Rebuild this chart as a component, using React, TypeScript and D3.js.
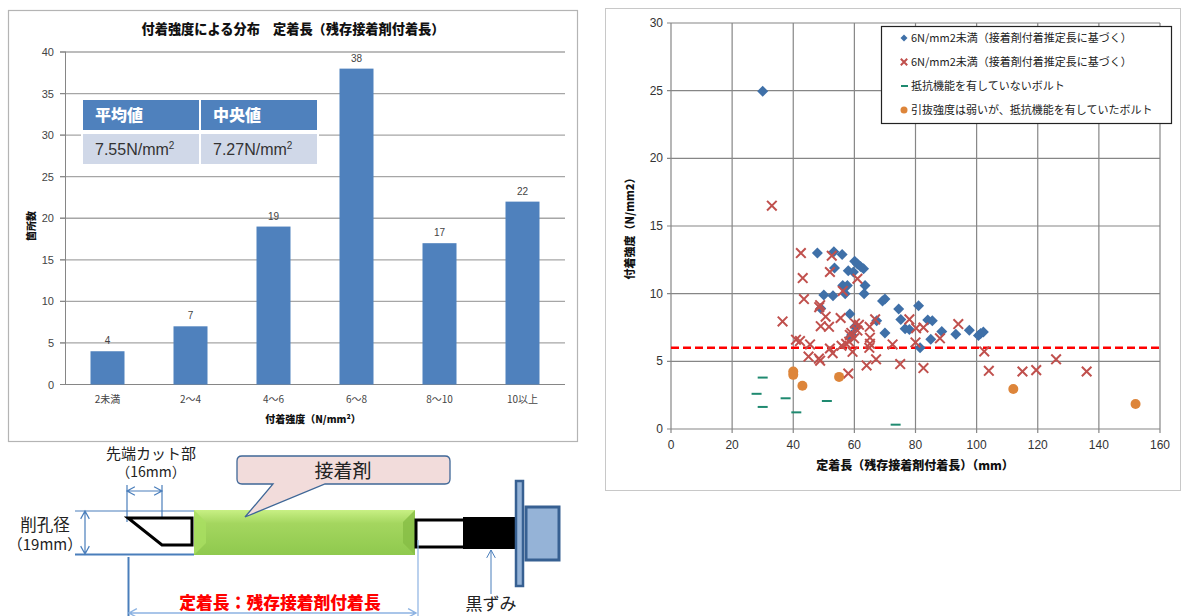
import React from "react";
import * as d3 from "d3";

const barCategories = ["2未満", "2〜4", "4〜6", "6〜8", "8〜10", "10以上"];
const barValues = [4, 7, 19, 38, 17, 22];
const barTicks = [0, 5, 10, 15, 20, 25, 30, 35, 40];
const tableHeaders = ["平均値", "中央値"];
const tableValues = ["7.55", "7.27"];

const blueX = [30, 47.9, 53.3, 56, 60.1, 61, 62, 63, 53.5, 58, 59.7, 63.5, 63.2, 56.2, 57.7, 57, 50, 53, 49, 58.5, 58.8, 67.3, 70, 69.2, 70, 74.5, 75.2, 76.6, 78, 81, 84, 85.5, 88.6, 85, 81.5, 93.2, 97.6, 100.6, 101.3, 102.2, 60.2, 59.1];
const blueY = [24.95, 13, 13.1, 12.9, 12.4, 12.2, 12, 11.85, 11.9, 11.7, 11.6, 10.6, 10, 10.6, 10.6, 10, 9.9, 9.85, 8.9, 8.5, 6.8, 8, 7.1, 9.45, 9.6, 8.87, 8.1, 7.4, 7.35, 9.1, 8.05, 8, 7.2, 6.63, 6, 7, 7.3, 6.9, 7.05, 7.17, 7.55, 6.95];
const redX = [33, 42.5, 52.6, 52, 61, 43.1, 56.2, 43.5, 48.8, 48.5, 36.5, 50.6, 55.5, 49, 51.7, 60.2, 61.5, 61, 65, 66.8, 65.1, 65.1, 59, 59.9, 58.5, 58.3, 57.3, 55.8, 40.9, 42.2, 45.5, 52, 52.9, 59.4, 64.9, 72.5, 45, 48.4, 48.8, 67.1, 64, 75, 58, 78, 80.2, 80, 82.6, 88, 94, 102.5, 104, 82.6, 115, 119.5, 126, 136];
const redY = [16.5, 13, 12.8, 11.6, 11.1, 11.15, 10.2, 9.6, 9.15, 9, 7.95, 8.3, 8.2, 7.6, 7.55, 7.8, 7.7, 7.27, 7.55, 8.1, 6.75, 6.3, 7.1, 6.7, 6.95, 6.45, 6.3, 6.15, 6.6, 6.5, 6.25, 5.95, 5.6, 5.7, 6, 6.25, 5.35, 5.2, 5.05, 5.15, 4.7, 4.8, 4.1, 8.1, 7.45, 6.4, 7.5, 6.7, 7.75, 5.73, 4.3, 4.5, 4.25, 4.35, 5.15, 4.25];
const greenX = [30, 28, 30, 37.5, 41, 51, 73.5];
const greenY = [3.8, 2.6, 1.63, 2.27, 1.23, 2.07, 0.32];
const orangeX = [40, 40, 43, 55, 112, 152];
const orangeY = [4.25, 4.0, 3.2, 3.85, 2.95, 1.85];
const threshold = 6;
const scatterXTicks = [0, 20, 40, 60, 80, 100, 120, 140, 160];
const scatterYTicks = [0, 5, 10, 15, 20, 25, 30];
const legendLabels = [
  "6N/mm2未満（接着剤付着推定長に基づく）",
  "6N/mm2未満（接着剤付着推定長に基づく）",
  "抵抗機能を有していないボルト",
  "引抜強度は弱いが、抵抗機能を有していたボルト",
];

const JP = "'Noto Sans CJK JP','Noto Sans',sans-serif";
const NUM = "'Liberation Sans','Noto Sans CJK JP',sans-serif";
const BLUE = "#4f81bd";
const LINE = "#4a7ebb";

function Diamond({ x, y, r = 5.5 }: { x: number; y: number; r?: number }) {
  return <path d={`M${x},${y - r}L${x + r},${y}L${x},${y + r}L${x - r},${y}Z`} fill="#3f70a8" />;
}
function Cross({ x, y, r = 4.8 }: { x: number; y: number; r?: number }) {
  return <path d={`M${x - r},${y - r}L${x + r},${y + r}M${x - r},${y + r}L${x + r},${y - r}`} stroke="#c0504d" strokeWidth={2} fill="none" />;
}
function Arrow({ x1, y1, x2, y2, color = LINE, w = 1.2, both = true }: any) {
  const a = Math.atan2(y2 - y1, x2 - x1);
  const s = 9;
  const head = (x: number, y: number, ang: number) =>
    `M${x + s * Math.cos(ang + 0.5)},${y + s * Math.sin(ang + 0.5)}L${x},${y}L${x + s * Math.cos(ang - 0.5)},${y + s * Math.sin(ang - 0.5)}`;
  return (
    <path
      d={`M${x1},${y1}L${x2},${y2}${head(x2, y2, a + Math.PI)}${both ? head(x1, y1, a) : ""}`}
      fill="none"
      stroke={color}
      strokeWidth={w}
    />
  );
}

function BarChart() {
  const x = d3.scaleBand<string>().domain(barCategories).range([66, 564]);
  const y = d3.scaleLinear().domain([0, 40]).range([384.5, 52]);
  return (
    <g>
      <rect x={8.5} y={10.5} width={569} height={431} fill="#fff" stroke="#b4b4b4" strokeWidth={1.2} />
      <text x={293} y={34} textAnchor="middle" fontFamily={JP} fontWeight={900} fontSize={13.2} fill="#111">付着強度による分布　定着長（残存接着剤付着長）</text>
      {barTicks.map((t) => (
        <g key={t}>
          {t > 0 && <line x1={60} x2={565} y1={y(t)} y2={y(t)} stroke="#a6a6a6" strokeWidth={1.3} />}
          <line x1={60} x2={66} y1={y(t)} y2={y(t)} stroke="#868686" />
          <text x={54} y={y(t) + 4} textAnchor="end" fontFamily={NUM} fontSize={11} fill="#444">{t}</text>
        </g>
      ))}
      <line x1={65.5} x2={65.5} y1={y(40)} y2={y(0)} stroke="#868686" />
      <line x1={65} x2={565} y1={y(0)} y2={y(0)} stroke="#868686" strokeWidth={1.2} />
      {barCategories.map((c, i) => {
        const bx = (x(c) as number) + x.bandwidth() / 2;
        const w = 34;
        return (
          <g key={c}>
            <rect x={bx - w / 2} y={y(barValues[i])} width={w} height={y(0) - y(barValues[i])} fill={BLUE} />
            <text x={bx} y={y(barValues[i]) - 7} textAnchor="middle" fontFamily={NUM} fontSize={10} fill="#444">{barValues[i]}</text>
            <text x={bx} y={403} textAnchor="middle" fontFamily={JP} fontSize={10} fill="#444">{c}</text>
          </g>
        );
      })}
      <text x={313} y={423} textAnchor="middle" fontFamily={JP} fontWeight={900} fontSize={10} fill="#111">付着強度（N/mm²）</text>
      <text transform="translate(35,226) rotate(-90)" textAnchor="middle" fontFamily={JP} fontWeight={900} fontSize={10} fill="#111">箇所数</text>
      <rect x={81} y={98} width={238} height={68} fill="#fff" />
      {tableHeaders.map((h, i) => {
        const tx = 83 + i * 118;
        return (
          <g key={h}>
            <rect x={tx} y={100} width={116} height={30} fill={BLUE} />
            <rect x={tx} y={134} width={116} height={30} fill="#d0d8e8" />
            <text x={tx + 12} y={121} fontFamily={JP} fontWeight={900} fontSize={16} fill="#fff">{h}</text>
            <text x={tx + 12} y={155} fontFamily={NUM} fontSize={16} fill="#333">
              {tableValues[i]}N/mm<tspan dy={-6} fontSize={10}>2</tspan>
            </text>
          </g>
        );
      })}
    </g>
  );
}

function ScatterChart() {
  const x = d3.scaleLinear().domain([0, 160]).range([671, 1160]);
  const y = d3.scaleLinear().domain([0, 30]).range([429, 23]);
  return (
    <g>
      <rect x={605.5} y={8.5} width={575} height={482} fill="#fff" stroke="#c8c8c8" strokeWidth={1} />
      {scatterXTicks.map((t) => (
        <g key={t}>
          <line x1={x(t)} x2={x(t)} y1={23} y2={433} stroke="#868686" strokeWidth={1.2} />
          <text x={x(t)} y={449} textAnchor="middle" fontFamily={NUM} fontSize={12} fill="#333">{t}</text>
        </g>
      ))}
      {scatterYTicks.map((t) => (
        <g key={t}>
          <line x1={667} x2={1160} y1={y(t)} y2={y(t)} stroke="#868686" strokeWidth={1.2} />
          <text x={663} y={y(t) + 4} textAnchor="end" fontFamily={NUM} fontSize={12} fill="#333">{t}</text>
        </g>
      ))}
      <line x1={671} x2={1162} y1={y(threshold)} y2={y(threshold)} stroke="#ff0000" strokeWidth={2.6} strokeDasharray="8 4" />
      {blueX.map((v, i) => <Diamond key={i} x={x(v)} y={y(blueY[i])} />)}
      {redX.map((v, i) => <Cross key={i} x={x(v)} y={y(redY[i])} />)}
      {greenX.map((v, i) => (
        <line key={i} x1={x(v) - 5} x2={x(v) + 5} y1={y(greenY[i])} y2={y(greenY[i])} stroke="#1f8a70" strokeWidth={2} />
      ))}
      {orangeX.map((v, i) => <circle key={i} cx={x(v)} cy={y(orangeY[i])} r={5} fill="#dd853a" />)}
      <rect x={881.5} y={26.5} width={290} height={97} fill="#fff" stroke="#222" strokeWidth={1.2} />
      {legendLabels.map((l, i) => {
        const ly = 38 + i * 24;
        return (
          <g key={i}>
            {i === 0 && <Diamond x={904} y={ly} r={3.5} />}
            {i === 1 && <Cross x={904} y={ly} r={3.2} />}
            {i === 2 && <line x1={901} x2={908} y1={ly} y2={ly} stroke="#1f8a70" strokeWidth={2} />}
            {i === 3 && <circle cx={904} cy={ly} r={3.5} fill="#dd853a" />}
            <text x={911} y={ly + 4} fontFamily={JP} fontSize={11} fill="#222">{l}</text>
          </g>
        );
      })}
      <text x={915} y={470} textAnchor="middle" fontFamily={JP} fontWeight={900} fontSize={12} fill="#111">定着長（残存接着剤付着長）（mm）</text>
      <text transform="translate(634,226) rotate(-90)" textAnchor="middle" fontFamily={JP} fontWeight={900} fontSize={11} fill="#111">付着強度（N/mm2）</text>
    </g>
  );
}

function Diagram() {
  return (
    <g>
      <defs>
        <linearGradient id="greenV" x1="0" y1="0" x2="0" y2="1">
          <stop offset="0" stopColor="#c8f084" />
          <stop offset="0.3" stopColor="#a4d65f" />
          <stop offset="1" stopColor="#8fc94e" />
        </linearGradient>
      </defs>
      <text x={151} y={459} textAnchor="middle" fontFamily={JP} fontSize={15} fill="#222">先端カット部</text>
      <text x={151} y={477} textAnchor="middle" fontFamily={JP} fontSize={14} fill="#222">（16mm）</text>
      <line x1={127} x2={127} y1={485} y2={522} stroke={LINE} strokeWidth={1.2} />
      <line x1={162} x2={162} y1={485} y2={519} stroke={LINE} strokeWidth={1.2} />
      <Arrow x1={127} y1={491} x2={162} y2={491} />
      <text x={45} y={531} textAnchor="middle" fontFamily={JP} fontSize={16.5} fill="#222">削孔径</text>
      <text x={45} y={550} textAnchor="middle" fontFamily={JP} fontSize={15} fill="#222">（19mm）</text>
      <line x1={75} x2={194} y1={511} y2={511} stroke={LINE} strokeWidth={1.2} />
      <line x1={75} x2={194} y1={554.5} y2={554.5} stroke={LINE} strokeWidth={2} />
      <Arrow x1={85} y1={511} x2={85} y2={554} />
      <path d="M128,518L192,518L192,545L162,545Z" fill="#fff" stroke="#000" strokeWidth={3} />
      <rect x={194} y={510} width={221} height={45} fill="url(#greenV)" />
      <path d="M194,510L206,522L206,543L194,555Z" fill="#a9de62" opacity={0.8} />
      <path d="M415,510L403,522L403,543L415,555Z" fill="#86bd45" opacity={0.8} />
      <path d="M245,517L273,484L242,484Q237,484 237,479L237,461Q237,456 242,456L445,456Q450,456 450,461L450,479Q450,484 445,484L325,484Z" fill="#f2dcdb" stroke="#3f6797" strokeWidth={1.3} />
      <text x={343} y={478} textAnchor="middle" fontFamily={JP} fontSize={19} fill="#222">接着剤</text>
      <rect x={416} y={520} width={49} height={27} fill="#fff" stroke="#000" strokeWidth={3} />
      <rect x={463} y={517} width={52} height={32} fill="#000" />
      <rect x={516} y={481} width={7} height={105} fill="#95b3d7" stroke="#376092" strokeWidth={2.5} />
      <rect x={526} y={507} width={33} height={53} fill="#95b3d7" stroke="#376092" strokeWidth={3} />
      <Arrow x1={491} y1={594} x2={491} y2={550} both={false} w={1} />
      <text x={491} y={610} textAnchor="middle" fontFamily={JP} fontSize={17} fill="#222">黒ずみ</text>
      <line x1={128.5} x2={128.5} y1={557} y2={616} stroke={LINE} strokeWidth={2} />
      <line x1={418} x2={418} y1={540} y2={616} stroke="#8db3e2" strokeWidth={1.2} />
      <Arrow x1={129} y1={613} x2={416} y2={613} color="#8db3e2" w={1.4} />
      <text x={280} y={609} textAnchor="middle" fontFamily={JP} fontWeight={900} fontSize={16.8} fill="#ff0000">定着長：残存接着剤付着長</text>
    </g>
  );
}

export default function App() {
  return (
    <svg
      width={1182}
      height={616}
      viewBox="0 0 1182 616"
      style={{ position: "fixed", left: 0, top: 0, display: "block", background: "#fff" }}
    >
      <BarChart />
      <ScatterChart />
      <Diagram />
    </svg>
  );
}
